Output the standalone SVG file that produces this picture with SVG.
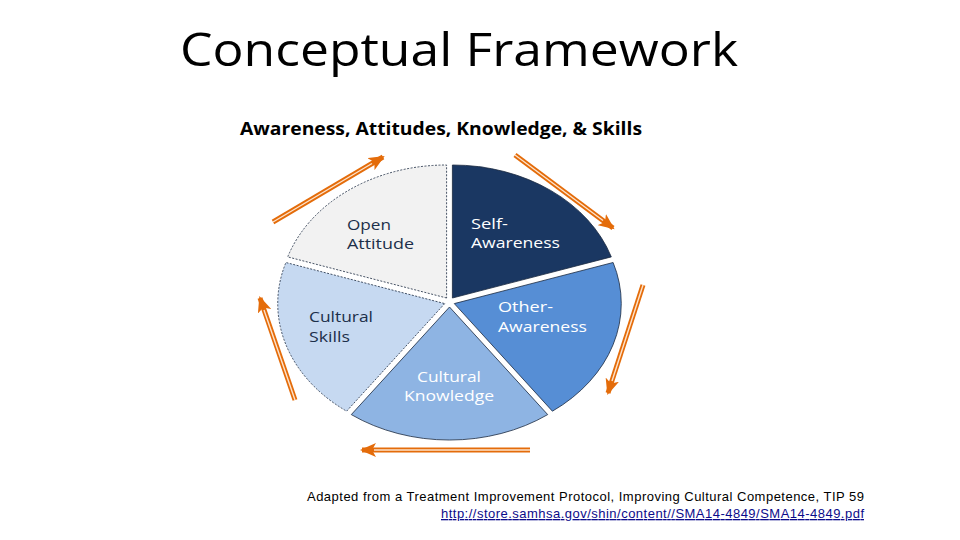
<svg xmlns="http://www.w3.org/2000/svg" width="960" height="540" viewBox="0 0 960 540">
<defs>
<style>
.lbl{font-family:"Open Sans","Noto Sans",sans-serif;font-size:14.5px;}
.dk{fill:#1c2f4a;}
.wt{fill:#ffffff;}
.slice{stroke:#1b2a40;stroke-width:0.8;}
.dash{stroke-dasharray:2 1.5;}
.arr{fill:none;stroke:#e46c0a;stroke-width:5;}
.arrIn{fill:none;stroke:#fde3cc;stroke-width:1.4;}
</style>
<marker id="ah" markerUnits="userSpaceOnUse" markerWidth="17" markerHeight="14" refX="14" refY="7" orient="auto">
<path d="M0,0 L16,7 L0,14 L4,7 Z" fill="#e46c0a"/>
</marker>
</defs>
<rect x="0" y="0" width="960" height="540" fill="#ffffff"/>

<g id="title">
<text x="180" y="66" font-family="'Open Sans','Noto Sans',sans-serif" font-size="46" fill="#000" textLength="558" lengthAdjust="spacingAndGlyphs">Conceptual Framework</text>
</g>

<g id="header">
<text x="240" y="135" font-family="'Open Sans','Noto Sans',sans-serif" font-size="17" font-weight="bold" fill="#000" textLength="402" lengthAdjust="spacingAndGlyphs">Awareness, Attitudes, Knowledge, &amp; Skills</text>
</g>

<g id="self-awareness">
<path class="slice" fill="#1a3762" d="M452.4,298 L452.4,165 A167,133 0 0 1 611.3,256.9 Z"/>
<text class="lbl wt" x="471" y="229" textLength="37" lengthAdjust="spacingAndGlyphs">Self-</text>
<text class="lbl wt" x="471" y="248" textLength="89" lengthAdjust="spacingAndGlyphs">Awareness</text>
</g>

<g id="other-awareness">
<path class="slice" fill="#568ed5" d="M454.3,303.6 L613.1,262.5 A167,133 0 0 1 552.4,411.2 Z"/>
<text class="lbl wt" x="498" y="312" textLength="55" lengthAdjust="spacingAndGlyphs">Other-</text>
<text class="lbl wt" x="498" y="331.5" textLength="89" lengthAdjust="spacingAndGlyphs">Awareness</text>
</g>

<g id="cultural-knowledge">
<path class="slice" fill="#8eb4e3" d="M449.5,307 L547.7,414.6 A167,133 0 0 1 351.3,414.6 Z"/>
<text class="lbl wt" x="417" y="381.5" textLength="64" lengthAdjust="spacingAndGlyphs">Cultural</text>
<text class="lbl wt" x="404" y="400.5" textLength="90" lengthAdjust="spacingAndGlyphs">Knowledge</text>
</g>

<g id="cultural-skills">
<path class="slice dash" fill="#c6d9f1" d="M444.7,303.6 L346.6,411.2 A167,133 0 0 1 285.9,262.5 Z"/>
<text class="lbl dk" x="309" y="322" textLength="64" lengthAdjust="spacingAndGlyphs">Cultural</text>
<text class="lbl dk" x="309" y="341.5" textLength="41" lengthAdjust="spacingAndGlyphs">Skills</text>
</g>

<g id="open-attitude">
<path class="slice dash" fill="#f2f2f2" d="M446.6,298 L287.7,256.9 A167,133 0 0 1 446.6,165 Z"/>
<text class="lbl dk" x="347" y="230" textLength="44" lengthAdjust="spacingAndGlyphs">Open</text>
<text class="lbl dk" x="347" y="249" textLength="67" lengthAdjust="spacingAndGlyphs">Attitude</text>
</g>

<g id="connectors">
<line class="arr" x1="273" y1="222" x2="383" y2="157" marker-end="url(#ah)"/>
<line class="arrIn" x1="273" y1="222" x2="372" y2="163.5"/>
<line class="arr" x1="515" y1="155" x2="613" y2="228" marker-end="url(#ah)"/>
<line class="arrIn" x1="515" y1="155" x2="603" y2="220.5"/>
<line class="arr" x1="643" y1="285" x2="608" y2="393" marker-end="url(#ah)"/>
<line class="arrIn" x1="643" y1="285" x2="612" y2="381"/>
<line class="arr" x1="530" y1="450" x2="362" y2="450" marker-end="url(#ah)"/>
<line class="arrIn" x1="530" y1="450" x2="374" y2="450"/>
<line class="arr" x1="295" y1="400" x2="260" y2="298" marker-end="url(#ah)"/>
<line class="arrIn" x1="295" y1="400" x2="264" y2="310"/>
</g>

<g id="caption">
<text x="864" y="501" text-anchor="end" font-family="'Liberation Sans',Arial,sans-serif" font-size="13" fill="#000" textLength="557">Adapted from a Treatment Improvement Protocol, Improving Cultural Competence, TIP 59</text>
<text x="864" y="518" text-anchor="end" font-family="'Liberation Sans',Arial,sans-serif" font-size="13" fill="#0b0b8a" text-decoration="underline" textLength="423">http://store.samhsa.gov/shin/content//SMA14-4849/SMA14-4849.pdf</text>
</g>
</svg>
